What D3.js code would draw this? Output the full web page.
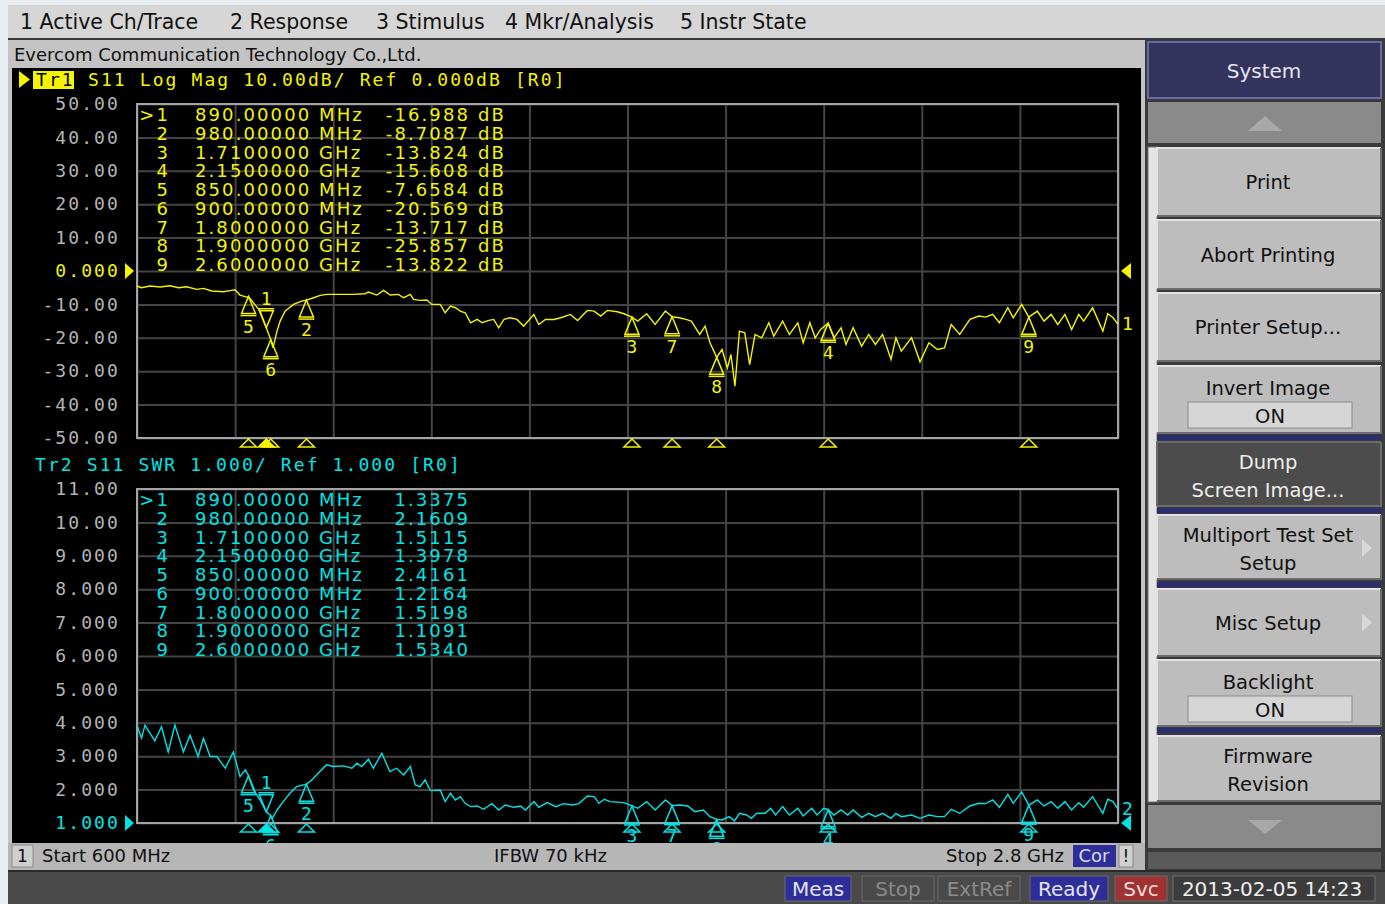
<!DOCTYPE html>
<html>
<head>
<meta charset="utf-8">
<script src="https://cdn.jsdelivr.net/npm/d3@7"></script>
<style>
  body { margin: 0; background: #e9eef3; overflow: hidden; }
  text { font-family: "DejaVu Sans", sans-serif; }
  .mono { font-family: "DejaVu Sans Mono", monospace; font-size: 18px; letter-spacing: 2.1px; }
</style>
</head>
<body>
<div id="screen"></div>
<script>
// stimulus and scale settings
var startMHz = 600;
var stopMHz = 2800;
var dbTicks = [50, 40, 30, 20, 10, 0, -10, -20, -30, -40, -50];
var swrTicks = [11, 10, 9, 8, 7, 6, 5, 4, 3, 2, 1];

// Tr1: S11 Log Mag (dB)
var s11Freq = [600, 610, 629, 652, 674, 693, 711, 734, 749, 768, 794, 812, 820, 831, 846, 850, 861, 876, 890, 900,
  905, 914, 921, 932, 951, 969, 980, 996, 1011, 1026, 1085, 1111, 1119, 1138, 1153, 1168, 1186, 1198, 1213, 1220,
  1235, 1250, 1261, 1280, 1291, 1303, 1314, 1325, 1336, 1348, 1363, 1374, 1389, 1400, 1411, 1423, 1437, 1452, 1467, 1490,
  1501, 1516, 1535, 1550, 1572, 1588, 1610, 1625, 1640, 1655, 1677, 1692, 1710, 1723, 1743, 1762, 1785, 1800, 1816, 1831,
  1843, 1862, 1874, 1885, 1900, 1912, 1924, 1932, 1941, 1951, 1963, 1974, 1986, 2001, 2017, 2028, 2048, 2063, 2082, 2094,
  2109, 2121, 2133, 2150, 2163, 2179, 2190, 2206, 2225, 2241, 2256, 2272, 2291, 2302, 2314, 2337, 2356, 2376, 2395, 2411,
  2426, 2445, 2468, 2488, 2503, 2519, 2534, 2553, 2565, 2584, 2600, 2619, 2634, 2650, 2665, 2681, 2696, 2712, 2723, 2743,
  2766, 2777, 2789, 2800];
var s11LogMag = [-4.5, -5.0, -4.5, -4.8, -4.4, -5.0, -4.7, -5.5, -5.2, -6.0, -6.2, -5.8, -5.6, -7.2, -7.8, -7.6584, -9.5, -12, -16.988, -20.569,
  -23, -18, -15, -12, -10, -9, -8.7087, -8.0, -7.3, -7.0, -7.0, -6.8, -6.3, -7.2, -5.8, -7.2, -7.0, -8.0, -7.0, -8.5,
  -8.8, -8.7, -10, -10, -12.5, -10.5, -11, -12, -12.5, -15.5, -14.5, -15.5, -14.8, -14.5, -17, -14.5, -14, -14.5, -16.5, -13,
  -16, -14.5, -14.5, -14, -13, -14.8, -11.8, -12, -13.5, -11.8, -12.2, -12.8, -13.824, -15, -12.8, -16, -12, -13.717, -14, -14.5,
  -15, -19, -16.5, -21.5, -25.857, -23.5, -29, -25, -34.5, -18, -18.5, -28, -19, -20, -15.5, -19.5, -15, -19, -15.5, -21.5,
  -15.5, -20, -17.5, -15.608, -20, -17, -22, -17, -22.5, -19, -22, -19, -26.5, -20, -24, -20, -27.2, -21.5, -23.5, -23,
  -16, -19, -14.5, -13.5, -13.8, -13, -15.5, -11, -14, -10, -13.822, -12, -15, -13, -16, -13, -17.5, -13, -15, -11,
  -18, -12.8, -14, -16];

// Tr2: S11 SWR
var swrFreq = [600, 610, 618, 629, 640, 655, 670, 685, 704, 719, 737, 749, 764, 779, 798, 816, 831, 843, 850, 861,
  876, 890, 900, 904, 914, 928, 943, 958, 980, 992, 1010, 1025, 1040, 1063, 1082, 1093, 1104, 1119, 1130, 1149,
  1167, 1182, 1198, 1213, 1224, 1235, 1246, 1258, 1280, 1291, 1303, 1314, 1325, 1336, 1348, 1363, 1377, 1396, 1411, 1426,
  1445, 1460, 1471, 1490, 1501, 1520, 1539, 1557, 1576, 1591, 1610, 1625, 1636, 1648, 1661, 1692, 1710, 1723, 1743, 1762,
  1785, 1800, 1816, 1835, 1851, 1870, 1885, 1900, 1912, 1928, 1940, 1951, 1967, 1978, 1990, 2009, 2021, 2032, 2048, 2063,
  2082, 2094, 2113, 2125, 2140, 2150, 2163, 2179, 2194, 2206, 2225, 2241, 2256, 2272, 2291, 2302, 2314, 2337, 2356, 2376,
  2395, 2411, 2426, 2445, 2468, 2488, 2503, 2519, 2534, 2553, 2565, 2584, 2600, 2619, 2634, 2650, 2665, 2681, 2696, 2712,
  2723, 2743, 2766, 2777, 2789, 2800];
var swrValue = [3.93, 3.54, 3.93, 3.69, 3.46, 3.88, 3.13, 3.93, 3.13, 3.63, 2.99, 3.54, 2.99, 2.99, 2.64, 3.13, 2.39, 2.59, 2.4161, 1.99,
  1.69, 1.3375, 1.2164, 1.15, 1.39, 1.64, 1.89, 2.09, 2.1609, 2.29, 2.54, 2.74, 2.69, 2.71, 2.64, 2.79, 2.69, 2.91, 2.64, 3.09,
  2.54, 2.64, 2.44, 2.69, 2.14, 2.09, 2.29, 1.97, 1.99, 1.64, 1.89, 1.69, 1.79, 1.59, 1.49, 1.51, 1.41, 1.58, 1.39, 1.54,
  1.47, 1.51, 1.39, 1.64, 1.47, 1.61, 1.49, 1.58, 1.54, 1.58, 1.81, 1.79, 1.59, 1.71, 1.64, 1.61, 1.5115, 1.44, 1.64, 1.39,
  1.69, 1.5198, 1.54, 1.51, 1.34, 1.39, 1.19, 1.1091, 1.09, 1.19, 1.06, 1.29, 1.24, 1.14, 1.29, 1.29, 1.44, 1.24, 1.49, 1.24,
  1.44, 1.21, 1.44, 1.24, 1.44, 1.3978, 1.24, 1.39, 1.24, 1.39, 1.17, 1.29, 1.19, 1.29, 1.14, 1.29, 1.19, 1.24, 1.14, 1.24,
  1.19, 1.19, 1.41, 1.29, 1.51, 1.59, 1.58, 1.69, 1.47, 1.86, 1.59, 1.93, 1.534, 1.69, 1.51, 1.64, 1.44, 1.64, 1.39, 1.61,
  1.47, 1.79, 1.29, 1.71, 1.64, 1.41];

// markers
var markerIds = [1, 2, 3, 4, 5, 6, 7, 8, 9];
var markerFreq = [890, 980, 1710, 2150, 850, 900, 1800, 1900, 2600];
var markerLogMag = [-16.988, -8.7087, -13.824, -15.608, -7.6584, -20.569, -13.717, -25.857, -13.822];
var markerSwr = [1.3375, 2.1609, 1.5115, 1.3978, 2.4161, 1.2164, 1.5198, 1.1091, 1.5340];

// screen texts
var menuItems = ["1 Active Ch/Trace", "2 Response", "3 Stimulus", "4 Mkr/Analysis", "5 Instr State"];
var softkeys = ["Print", "Abort Printing", "Printer Setup...", "Invert Image", "Dump", "Multiport Test Set", "Misc Setup", "Backlight", "Firmware"];
var softkeysLine2 = ["", "", "", "ON", "Screen Image...", "Setup", "", "ON", "Revision"];
var statusItems = ["Meas", "Stop", "ExtRef", "Ready", "Svc"];

var yellow = "#f4f400";
var cyan = "#00e4e4";

var svg = d3.select("#screen")
  .append("svg")
  .attr("width", 1385)
  .attr("height", 904);

// ---------- menu bar ----------
svg.append("rect").attr("x", 8).attr("y", 5).attr("width", 1377).attr("height", 33).attr("fill", "#d6d6d6");
svg.append("rect").attr("x", 8).attr("y", 38).attr("width", 1377).attr("height", 2).attr("fill", "#3a3a3a");
var menuX = [20, 230, 376, 505, 680];
svg.selectAll(".menu")
  .data(menuItems)
  .enter()
  .append("text")
  .attr("x", (d, i) => menuX[i])
  .attr("y", 29)
  .attr("font-size", 20.5)
  .attr("fill", "#111")
  .text(d => d);

// ---------- main window ----------
svg.append("rect").attr("x", 8).attr("y", 40).attr("width", 1137).attr("height", 830).attr("fill", "#c4c4c4");
svg.append("text").attr("x", 14).attr("y", 61).attr("font-size", 18).attr("fill", "#111")
  .text("Evercom Communication Technology Co.,Ltd.");
svg.append("rect").attr("x", 12).attr("y", 68).attr("width", 1129).attr("height", 775).attr("fill", "#000");

var left = 137, right = 1118;
var x = d3.scaleLinear().domain([startMHz, stopMHz]).range([left, right]);
var yDb = d3.scaleLinear().domain([-50, 50]).range([438, 104]);
var ySwr = d3.scaleLinear().domain([1, 11]).range([823, 489]);
var gridFreq = d3.range(startMHz, stopMHz + 1, (stopMHz - startMHz) / 10);

function drawGrid(yScale, ticks, refValue, color) {
  var r = yScale.range();
  var gx = svg.append("g")
    .attr("transform", `translate(0, ${r[0]})`)
    .call(d3.axisBottom(x).tickValues(gridFreq).tickSize(-(r[0] - r[1])).tickFormat(""));
  gx.select(".domain").remove();
  gx.selectAll("line").attr("stroke", "#444").attr("stroke-width", 2);

  var gy = svg.append("g")
    .attr("transform", `translate(${left}, 0)`)
    .call(d3.axisLeft(yScale).tickValues(ticks).tickSize(-(right - left)).tickPadding(17)
      .tickFormat(d => d.toPrecision(4)));
  gy.select(".domain").remove();
  gy.selectAll("line").attr("stroke", "#444").attr("stroke-width", 2);
  gy.selectAll("text")
    .attr("class", "mono")
    .attr("fill", d => d === refValue ? color : "#b4b4b4");

  svg.append("rect")
    .attr("x", left).attr("y", r[1])
    .attr("width", right - left).attr("height", r[0] - r[1])
    .attr("fill", "none").attr("stroke", "#a4a4a4").attr("stroke-width", 2);

  // reference level arrows
  var yr = yScale(refValue);
  svg.append("path").attr("d", `M125,${yr - 8}L134,${yr}L125,${yr + 8}Z`).attr("fill", color);
  svg.append("path").attr("d", `M1131,${yr - 8}L1121,${yr}L1131,${yr + 8}Z`).attr("fill", color);
}

function drawTrace(freqs, vals, yScale, color, traceNo) {
  var pts = freqs.map((f, i) => ({ f: f, v: vals[i] }));
  var line = d3.line().x(d => x(d.f)).y(d => yScale(d.v));
  svg.append("path")
    .datum(pts)
    .attr("d", line)
    .attr("fill", "none")
    .attr("stroke", color)
    .attr("stroke-width", 1.4);
  var last = pts[pts.length - 1];
  svg.append("text").attr("class", "mono").attr("x", right + 4).attr("y", yScale(last.v) + 6)
    .attr("fill", color).text(traceNo);
}

function drawMarkers(markerVals, yScale, color) {
  var bottom = yScale.range()[0];
  var g = svg.append("g");
  markerIds.forEach(function(id, i) {
    var px = x(markerFreq[i]);
    var py = yScale(markerVals[i]);
    if (id === 1) {
      g.append("path").attr("d", `M${px - 7},${py - 17}L${px + 7},${py - 17}L${px},${py}Z`)
        .attr("fill", "none").attr("stroke", color).attr("stroke-width", 1.5);
      g.append("path").attr("d", `M${px - 8},${py - 19}L${px + 8},${py - 19}`).attr("stroke", color).attr("stroke-width", 1.5);
      g.append("text").attr("class", "mono").attr("x", px + 1).attr("y", py - 23).attr("text-anchor", "middle")
        .attr("font-size", 16).attr("fill", color).text(id);
    } else {
      g.append("path").attr("d", `M${px},${py}L${px + 7},${py + 17}L${px - 7},${py + 17}Z`)
        .attr("fill", "none").attr("stroke", color).attr("stroke-width", 1.5);
      g.append("path").attr("d", `M${px - 8},${py + 19}L${px + 8},${py + 19}`).attr("stroke", color).attr("stroke-width", 1.5);
      g.append("text").attr("class", "mono").attr("x", px + 1).attr("y", py + 36).attr("text-anchor", "middle")
        .attr("font-size", 16).attr("fill", color).text(id);
    }
    // position indicator under the grid
    g.append("path").attr("d", `M${px},${bottom + 1}L${px + 8},${bottom + 9}L${px - 8},${bottom + 9}Z`)
      .attr("fill", id === 1 ? color : "none").attr("stroke", color).attr("stroke-width", 1.5);
  });
}

function freqText(f) {
  return f < 1000 ? f.toFixed(5) + " MHz" : (f / 1000).toFixed(7) + " GHz";
}

function drawTable(top, markerVals, unit, color) {
  var g = svg.append("g").attr("class", "mono").attr("fill", color);
  markerIds.forEach(function(id, i) {
    var yy = top + i * 18.75;
    g.append("text").attr("x", 170).attr("y", yy).attr("text-anchor", "end").text((id === 1 ? ">" : "") + id);
    g.append("text").attr("x", 195).attr("y", yy).text(freqText(markerFreq[i]));
    g.append("text").attr("x", 470).attr("y", yy).attr("text-anchor", "end").text(markerVals[i].toPrecision(5));
    if (unit) g.append("text").attr("x", 478).attr("y", yy).text(unit);
  });
}

// upper channel: Tr1
svg.append("path").attr("d", "M19,71L30,79.5L19,88Z").attr("fill", yellow);
svg.append("rect").attr("x", 33).attr("y", 71).attr("width", 41).attr("height", 18).attr("fill", yellow);
svg.append("text").attr("class", "mono").attr("x", 36).attr("y", 86).attr("fill", "#000").text("Tr1");
svg.append("text").attr("class", "mono").attr("x", 88).attr("y", 86).attr("fill", yellow)
  .text("S11 Log Mag 10.00dB/ Ref 0.000dB [R0]");
drawGrid(yDb, dbTicks, 0, yellow);
drawTable(121, markerLogMag, "dB", yellow);
drawTrace(s11Freq, s11LogMag, yDb, yellow, "1");
drawMarkers(markerLogMag, yDb, yellow);

// lower channel: Tr2
svg.append("text").attr("class", "mono").attr("x", 35).attr("y", 471).attr("fill", cyan)
  .text("Tr2 S11 SWR 1.000/ Ref 1.000 [R0]");
drawGrid(ySwr, swrTicks, 1, cyan);
drawTable(506, markerSwr, "", cyan);
drawTrace(swrFreq, swrValue, ySwr, cyan, "2");
drawMarkers(markerSwr, ySwr, cyan);

// channel status line
svg.append("rect").attr("x", 8).attr("y", 843).attr("width", 1137).attr("height", 27).attr("fill", "#b6b6b6");
svg.append("rect").attr("x", 12).attr("y", 845).attr("width", 21).attr("height", 22).attr("fill", "#cfcfcf")
  .attr("stroke", "#8a8a8a");
svg.append("text").attr("x", 17).attr("y", 862).attr("font-size", 17).attr("fill", "#111").text("1");
svg.append("text").attr("x", 42).attr("y", 862).attr("font-size", 18).attr("fill", "#111").text("Start " + startMHz + " MHz");
svg.append("text").attr("x", 494).attr("y", 862).attr("font-size", 18).attr("fill", "#111").text("IFBW 70 kHz");
svg.append("text").attr("x", 1064).attr("y", 862).attr("font-size", 18).attr("fill", "#111").attr("text-anchor", "end")
  .text("Stop " + (stopMHz / 1000) + " GHz");
svg.append("rect").attr("x", 1073).attr("y", 845).attr("width", 43).attr("height", 22).attr("fill", "#2e2e9a");
svg.append("text").attr("x", 1094).attr("y", 862).attr("font-size", 18).attr("fill", "#dcdcf0").attr("text-anchor", "middle").text("Cor");
svg.append("rect").attr("x", 1119).attr("y", 845).attr("width", 14).attr("height", 22).attr("fill", "#d0d0d0").attr("stroke", "#888");
svg.append("text").attr("x", 1126).attr("y", 862).attr("font-size", 17).attr("fill", "#111").attr("text-anchor", "middle").text("!");

// ---------- softkey panel ----------
svg.append("rect").attr("x", 1145).attr("y", 40).attr("width", 240).attr("height", 832).attr("fill", "#3a3a3a");
svg.append("rect").attr("x", 1148).attr("y", 42).attr("width", 233).attr("height", 56).attr("fill", "#33335e")
  .attr("stroke", "#6a6aa8").attr("stroke-width", 2);
svg.append("text").attr("x", 1264).attr("y", 78).attr("font-size", 20).attr("fill", "#e6e6ee").attr("text-anchor", "middle").text("System");
svg.append("rect").attr("x", 1148).attr("y", 102).attr("width", 233).attr("height", 41).attr("fill", "#8a8a8a");
svg.append("path").attr("d", "M1248,131L1265,116L1282,131Z").attr("fill", "#a8a8a8");
svg.append("rect").attr("x", 1148).attr("y", 805).attr("width", 233).attr("height", 43).attr("fill", "#8a8a8a");
svg.append("path").attr("d", "M1248,820L1265,834L1282,820Z").attr("fill", "#a8a8a8");
svg.append("rect").attr("x", 1148).attr("y", 852).attr("width", 233).attr("height", 17).attr("fill", "#5a5a5a");
// scroll strip
svg.append("rect").attr("x", 1148).attr("y", 147).attr("width", 9).attr("height", 655).attr("fill", "#e4e4e4")
  .attr("stroke", "#777");

var keyTop = [148, 220, 293, 366, 442, 515, 589, 660, 736];
var keyH = [68, 69, 68, 67, 64, 64, 67, 66, 65];
var sepY = [435, 508, 582, 728];
sepY.forEach(function(sy) {
  svg.append("rect").attr("x", 1157).attr("y", sy).attr("width", 224).attr("height", 5).attr("fill", "#2c2c70");
});
softkeys.forEach(function(label, i) {
  var dark = label === "Dump";
  var top = keyTop[i], h = keyH[i];
  svg.append("rect").attr("x", 1157).attr("y", top).attr("width", 224).attr("height", h)
    .attr("fill", dark ? "#4c4c4c" : "#bdbdbd");
  svg.append("path").attr("d", `M1157,${top + h}L1157,${top}L1381,${top}`)
    .attr("fill", "none").attr("stroke", dark ? "#6a6a6a" : "#e2e2e2").attr("stroke-width", 2);
  svg.append("path").attr("d", `M1157,${top + h}L1381,${top + h}L1381,${top}`)
    .attr("fill", "none").attr("stroke", "#6c6c6c").attr("stroke-width", 2);
  var line2 = softkeysLine2[i];
  var col = dark ? "#eeeeee" : "#111";
  var fs = 19.5;
  if (line2 === "ON") {
    svg.append("text").attr("x", 1268).attr("y", top + 29).attr("font-size", fs).attr("fill", col).attr("text-anchor", "middle").text(label);
    svg.append("rect").attr("x", 1188).attr("y", top + 36).attr("width", 164).attr("height", 26).attr("fill", "#d6d6d6")
      .attr("stroke", "#8c8c8c");
    svg.append("text").attr("x", 1270).attr("y", top + 57).attr("font-size", fs).attr("fill", col).attr("text-anchor", "middle").text(line2);
  } else if (line2) {
    svg.append("text").attr("x", 1268).attr("y", top + 27).attr("font-size", fs).attr("fill", col).attr("text-anchor", "middle").text(label);
    svg.append("text").attr("x", 1268).attr("y", top + 55).attr("font-size", fs).attr("fill", col).attr("text-anchor", "middle").text(line2);
  } else {
    svg.append("text").attr("x", 1268).attr("y", top + h / 2 + 7).attr("font-size", fs).attr("fill", col).attr("text-anchor", "middle").text(label);
  }
  if (label === "Multiport Test Set" || label === "Misc Setup") {
    var ay = top + (line2 ? 33 : h / 2);
    svg.append("path").attr("d", `M1362,${ay - 9}L1372,${ay}L1362,${ay + 9}Z`).attr("fill", "#d8d8d8");
  }
});

// ---------- bottom status bar ----------
svg.append("rect").attr("x", 8).attr("y", 870).attr("width", 1377).attr("height", 34).attr("fill", "#4a4a4a");
svg.append("rect").attr("x", 8).attr("y", 870).attr("width", 1377).attr("height", 2).attr("fill", "#2a2a2a");
var statX = [785, 862, 938, 1030, 1115];
var statW = [66, 72, 82, 78, 52];
var statFill = ["#2e2e9a", "#4a4a4a", "#4a4a4a", "#2e2e9a", "#a03232"];
var statText = ["#e4e4f4", "#8a8a8a", "#8a8a8a", "#e4e4f4", "#f0dcdc"];
statusItems.forEach(function(s, i) {
  svg.append("rect").attr("x", statX[i]).attr("y", 876).attr("width", statW[i]).attr("height", 25)
    .attr("fill", statFill[i]).attr("stroke", "#6a6a6a");
  svg.append("text").attr("x", statX[i] + statW[i] / 2).attr("y", 896).attr("font-size", 20)
    .attr("text-anchor", "middle").attr("fill", statText[i]).text(s);
});
svg.append("rect").attr("x", 1173).attr("y", 876).attr("width", 202).attr("height", 25).attr("fill", "#3c3c3c").attr("stroke", "#707070");
svg.append("text").attr("x", 1272).attr("y", 896).attr("font-size", 20).attr("text-anchor", "middle").attr("fill", "#f0f0f0")
  .text("2013-02-05 14:23");
</script>
</body>
</html>
